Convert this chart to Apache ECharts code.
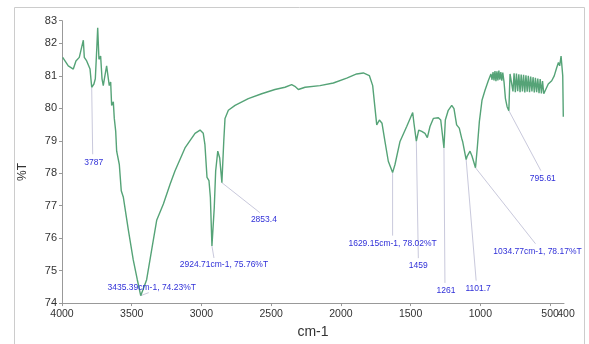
<!DOCTYPE html>
<html>
<head>
<meta charset="utf-8">
<script src="https://cdn.jsdelivr.net/npm/echarts@6/dist/echarts.min.js"></script>
<style>
html,body{margin:0;padding:0;background:#fff;}
#chart{width:589px;height:344px;}
</style>
</head>
<body>
<div id="chart"></div>
<script>
// Wavenumbers (cm-1) and transmittance (%T)
const wavenumbers = [
  3995,3955,3919,3900,3890,3876,3866,3847,3840,3823,3809,3799,3787,3771,3761,3750,3744,3735,3723,3713,
  3704,3694,3680,3668,3661,3651,3644,3632,3625,3615,3608,3589,3575,3560,3524,3489,3460,3435.39,3393,3357,
  3321,3273,3225,3190,3118,3046,3010,2987,2975,2960,2946,2936,2924.71,2908,2898,2883,2869,2853.4,2840,2831,
  2807,2759,2664,2568,2473,2401,2353,2330,2305,2257,2150,2054,1958,1887,1839,1796,1772,1755,1743,1724,
  1705,1684,1660,1629.15,1612,1576,1528,1485,1476,1459,1442,1420,1397,1380,1361,1337,1301,1284,1261,1251,
  1230,1205,1189,1170,1151,1134,1127,1101.7,1094,1074,1060,1050,1034.77,1022,1007,988,967,943,924,916,
  909,902,895,888,881,874,867,860,853,846,839,830,820,808,795.61,787,775,766,758,749,
  741,732,724,715,707,698,690,681,673,664,656,647,639,630,622,613,605,596,588,579,
  571,562,554,545,536,513,488,470,452,440,431,421,414,409,405
];
const transmittance = [
  81.57,81.31,81.21,81.46,81.41,81.57,81.63,82.10,81.57,81.46,81.41,81.21,80.65,80.75,80.91,81.90,82.48,81.51,81.61,80.91,
  80.70,80.96,81.31,81.36,80.70,80.81,80.09,80.20,79.69,79.30,78.68,78.27,77.46,77.26,76.25,75.33,74.72,74.23,74.72,75.64,
  76.55,77.05,77.66,78.07,78.78,79.23,79.33,79.23,78.88,77.87,77.77,77.26,75.76,76.95,78.07,78.68,78.47,77.71,78.98,79.69,
  79.94,80.09,80.30,80.45,80.58,80.65,80.73,80.68,80.58,80.65,80.70,80.78,80.93,81.06,81.09,81.01,80.70,79.99,79.49,79.64,
  79.54,78.98,78.37,78.02,78.27,78.98,79.44,79.87,79.54,78.99,79.33,79.29,79.23,79.10,79.44,79.69,79.71,79.64,78.78,79.64,
  79.94,80.09,79.99,79.49,79.39,79.08,78.98,78.42,78.53,78.68,78.53,78.47,78.17,78.78,79.59,80.25,80.55,80.85,81.06,80.88,
  81.12,80.86,81.15,80.84,81.14,80.86,81.16,80.88,81.12,80.85,81.10,80.81,80.30,80.05,79.93,81.06,81.10,80.52,81.08,80.50,
  81.07,80.53,81.05,80.50,81.04,80.52,81.03,80.49,81.02,80.51,81.00,80.50,80.98,80.52,80.96,80.49,80.94,80.50,80.92,80.47,
  80.90,80.46,80.84,80.45,80.42,80.75,80.85,81.00,81.26,81.41,81.31,81.61,81.67,81.00,79.74
];

// Tick labels
const xTickValues = [4000,3500,3000,2500,2000,1500,1000,500,400];
const yTicks = [74,75,76,77,78,79,80,81,82,83];

// Peak annotations
const peakWn = [3787,3435.39,2924.71,2853.4,1629.15,1459,1261,1101.7,1034.77,795.61];
const peakT = [80.65,74.23,75.76,77.71,78.02,78.99,78.78,78.42,78.17,79.93];
const peakText = ['3787','3435.39cm-1, 74.23%T','2924.71cm-1, 75.76%T','2853.4','1629.15cm-1, 78.02%T','1459','1261','1101.7','1034.77cm-1, 78.17%T','795.61'];

// Layout: pixel offsets from peak to leader-line end and label centre
const leaderEnd = [[1,67],[8,-3],[2,12],[38,30],[0,63],[2,117],[1,135],[10,121],[60,76],[32,60]];
const labelPos  = [[2,75],[11,-8],[12,19],[42,37],[0,71],[2,125],[2,143],[12,129],[62,84],[34,68]];

const seriesData = wavenumbers.map((w, i) => [w, transmittance[i]]);

const chart = echarts.init(document.getElementById('chart'), null, {renderer: 'canvas'});
const font = "'Liberation Sans', Arial, sans-serif";
chart.setOption({
  animation: false,
  backgroundColor: '#fff',
  grid: {left: 62, right: 25, top: 20.7, bottom: 36.7, containLabel: false},
  xAxis: {
    type: 'value', inverse: true, min: 400, max: 4000,
    name: 'cm-1', nameLocation: 'middle', nameGap: 21,
    nameTextStyle: {fontFamily: font, fontSize: 14, color: '#333'},
    axisLine: {show: true, lineStyle: {color: '#999', width: 1}},
    axisTick: {show: true, length: 3, lineStyle: {color: '#999'}, customValues: xTickValues},
    axisLabel: {fontFamily: font, fontSize: 10.5, color: '#333', margin: 6, customValues: xTickValues,
      hideOverlap: false, showMinLabel: true, showMaxLabel: false, formatter: v => String(v)},
    splitLine: {show: false}
  },
  yAxis: {
    type: 'value', min: 74, max: 82.7, interval: 1,
    axisLine: {show: true, lineStyle: {color: '#999', width: 1}},
    axisTick: {show: true, length: 3, lineStyle: {color: '#999'}},
    axisLabel: {fontFamily: font, fontSize: 11, color: '#333', margin: 5,
      formatter: v => String(yTicks.reduce((a, b) => Math.abs(b - v) < Math.abs(a - v) ? b : a))},
    splitLine: {show: false}
  },
  series: [{
    type: 'line', data: seriesData, showSymbol: false, symbol: 'none',
    lineStyle: {color: '#55a377', width: 1.4}, z: 3
  }]
});

// The axis drops the crowded end label, so draw it at its tick position
const minTick = xTickValues[xTickValues.length - 1];
const minPx = chart.convertToPixel({gridIndex: 0}, [minTick, 74]);
const g = [{
  type: 'rect', shape: {x: 14.5, y: 7.5, width: 570, height: 360},
  style: {fill: null, stroke: '#cccccc', lineWidth: 1}, silent: true, z: -1
}, {
  type: 'text', x: 23, y: 172, rotation: Math.PI / 2,
  style: {text: '%T', fill: '#333', font: "12px 'Liberation Sans', Arial, sans-serif", align: 'center', verticalAlign: 'middle'},
  silent: true
}, {
  type: 'text', x: minPx[0] + 2, y: minPx[1] + 6,
  style: {text: String(minTick), fill: '#333', font: "10.5px 'Liberation Sans', Arial, sans-serif", align: 'center', verticalAlign: 'top'},
  silent: true
}];
peakWn.forEach((w, i) => {
  const p = chart.convertToPixel({gridIndex: 0}, [w, peakT[i]]);
  const e = leaderEnd[i], l = labelPos[i];
  g.push({
    type: 'line', shape: {x1: p[0], y1: p[1], x2: p[0] + e[0], y2: p[1] + e[1]},
    style: {stroke: '#c9c9dc', lineWidth: 1}, silent: true, z: 2
  });
  g.push({
    type: 'text', x: p[0] + l[0], y: p[1] + l[1],
    style: {text: peakText[i], fill: '#3030d8', font: "8.5px 'Liberation Sans', Arial, sans-serif", align: 'center', verticalAlign: 'middle'},
    silent: true, z: 4
  });
});
chart.setOption({graphic: g});
</script>
</body>
</html>
